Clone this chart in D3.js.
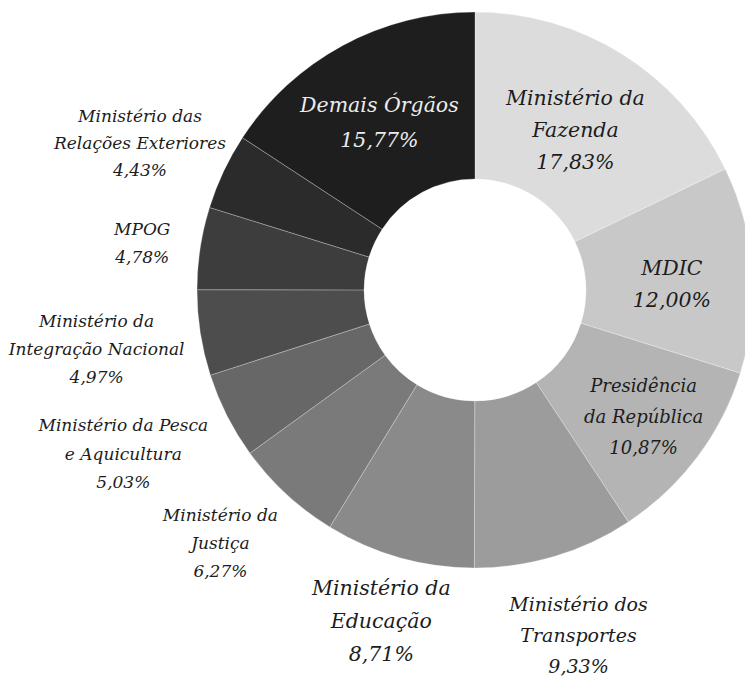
<!DOCTYPE html>
<html>
<head>
<meta charset="utf-8">
<script src="https://cdn.jsdelivr.net/npm/d3@7"></script>
<style>
  body { margin: 0; background: #fff; }
  svg { display: block; }
</style>
</head>
<body>
<div id="chart"></div>
<script>
// data, clockwise from 12 o'clock
const orgaos = [
  "Ministério da|Fazenda",
  "MDIC",
  "Presidência|da República",
  "Ministério dos|Transportes",
  "Ministério da|Educação",
  "Ministério da|Justiça",
  "Ministério da Pesca|e Aquicultura",
  "Ministério da|Integração Nacional",
  "MPOG",
  "Ministério das|Relações Exteriores",
  "Demais Órgãos"
];
const percentuais = [17.83, 12.00, 10.87, 9.33, 8.71, 6.27, 5.03, 4.97, 4.78, 4.43, 15.77];
const tonsCinza = ["#dcdcdc", "#c8c8c8", "#b4b4b4", "#9c9c9c", "#8a8a8a", "#7a7a7a",
                   "#676767", "#4d4d4d", "#3d3d3d", "#2b2b2b", "#1e1e1e"];

// label layout: radius from centre, angle nudge (deg), font size, line height
const labelLayout = [
  { r: 189, da: 0, fs: 20.5, lh: 32 },
  { r: 197, da: 2.5, fs: 20.5, lh: 32 },
  { r: 211, da: 0, fs: 18, lh: 31 },
  { r: 361, da: 0, fs: 19, lh: 31 },
  { r: 344, da: 0, fs: 20.5, lh: 33 },
  { r: 359, da: 2.4, fs: 17, lh: 28 },
  { r: 388, da: 1.9, fs: 17, lh: 28.5 },
  { r: 383, da: 0, fs: 17, lh: 28 },
  { r: 336, da: -0.7, fs: 17, lh: 28 },
  { r: 366, da: -1.5, fs: 17, lh: 27 },
  { r: 193, da: -1.3, fs: 20.5, lh: 35 }
];

const width = 745, height = 677;
const cx = 475, cy = 290;
const outerR = 278, innerR = 111;

const svg = d3.select("#chart")
  .append("svg")
  .attr("width", width)
  .attr("height", height);

const g = svg.append("g").attr("transform", `translate(${cx},${cy})`);

const data = orgaos.map((nome, i) => ({
  nome,
  valor: percentuais[i],
  cor: tonsCinza[i],
  layout: labelLayout[i]
}));

const pie = d3.pie().value(d => d.valor).sort(null);
const arc = d3.arc().innerRadius(innerR).outerRadius(outerR);
const arcs = pie(data);

g.selectAll("path.fatia")
  .data(arcs)
  .enter()
  .append("path")
  .attr("class", "fatia")
  .attr("d", arc)
  .attr("fill", d => d.data.cor)
  .attr("stroke", "#fff")
  .attr("stroke-opacity", 0.35)
  .attr("stroke-width", 0.8);

const fmt = v => d3.format(".2f")(v).replace(".", ",") + "%";

g.selectAll("text.rotulo")
  .data(arcs)
  .enter()
  .append("text")
  .attr("class", "rotulo")
  .attr("text-anchor", "middle")
  .style("font-family", "'DejaVu Serif', serif")
  .style("font-style", "italic")
  .style("font-size", d => d.data.layout.fs + "px")
  .attr("fill", (d, i) => i === arcs.length - 1 ? "#ececec" : "#1c1c1c")
  .each(function (d) {
    const { r, da, lh } = d.data.layout;
    const a = (d.startAngle + d.endAngle) / 2 + da * Math.PI / 180;
    const x = r * Math.sin(a);
    const y = -r * Math.cos(a);
    const lines = d.data.nome.split("|").concat(fmt(d.data.valor));
    const y0 = y - (lines.length - 1) * lh / 2;
    d3.select(this)
      .selectAll("tspan")
      .data(lines)
      .enter()
      .append("tspan")
      .attr("x", x)
      .attr("y", (t, k) => y0 + k * lh)
      .attr("dy", "0.35em")
      .text(t => t);
  });
</script>
</body>
</html>
